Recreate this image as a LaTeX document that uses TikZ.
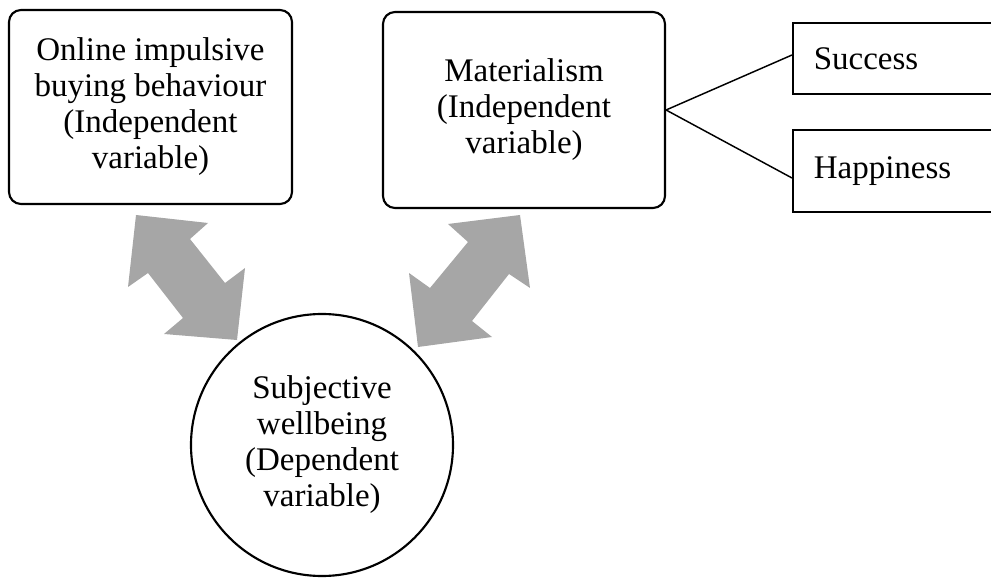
\documentclass[tikz,border=0pt]{standalone}
\usepackage{fontspec}
\setmainfont{Liberation Serif}
\definecolor{arrowgray}{RGB}{166,166,166}
\tikzset{
  txt/.style={font=\fontsize{24.75}{27}\selectfont},
  varbox/.style={txt, draw, line width=1.6pt, rounded corners=9pt, align=center, inner sep=0pt},
  dimbox/.style={txt, draw, line width=1.2pt, anchor=west, minimum width=187.5pt, text width=171.75pt, inner xsep=15.75pt, inner ysep=0pt, align=left},
  depcircle/.style={txt, draw, circle, line width=1.6pt, minimum size=196.5pt, align=center, inner sep=0pt},
  link/.style={line width=1.1pt},
  blockarrow/.style={fill=arrowgray, draw=none}
}
\begin{document}
\begin{tikzpicture}[x=0.75pt,y=-0.75pt]
\useasboundingbox (0,0) rectangle (991,584);
\clip (0,0) rectangle (991,584);

\node[varbox, minimum width=212.25pt, minimum height=145.5pt] (oibb) at (150.5,107)
  {Online impulsive\\buying behaviour\\(Independent\\variable)};
\node[varbox, minimum width=211.5pt, minimum height=147pt] (mat) at (524,110)
  {Materialism\\(Independent\\variable)};
\node[dimbox, minimum height=53.25pt] (succ) at (792,58.5) {Success};
\node[dimbox, minimum height=61.5pt] (happ) at (792,171) {Happiness};
\node[depcircle] (swb) at (322,445)
  {Subjective\\wellbeing\\(Dependent\\variable)};

\draw[link] (mat.east) -- (succ.west |- 0,55);
\draw[link] (mat.east) -- (happ.west |- 0,178);

% left double block arrow
\fill[blockarrow] (136,215) -- (208,223) -- (190,239) -- (225,283) -- (245,268)
  -- (237,340) -- (164,334) -- (183,318) -- (148,273) -- (128,287) -- cycle;
% right double block arrow
\fill[blockarrow] (520,215) -- (530,288) -- (509,274) -- (472,321) -- (492,337)
  -- (418,347) -- (409,273) -- (430,288) -- (468,242) -- (448,224) -- cycle;
\end{tikzpicture}
\end{document}
